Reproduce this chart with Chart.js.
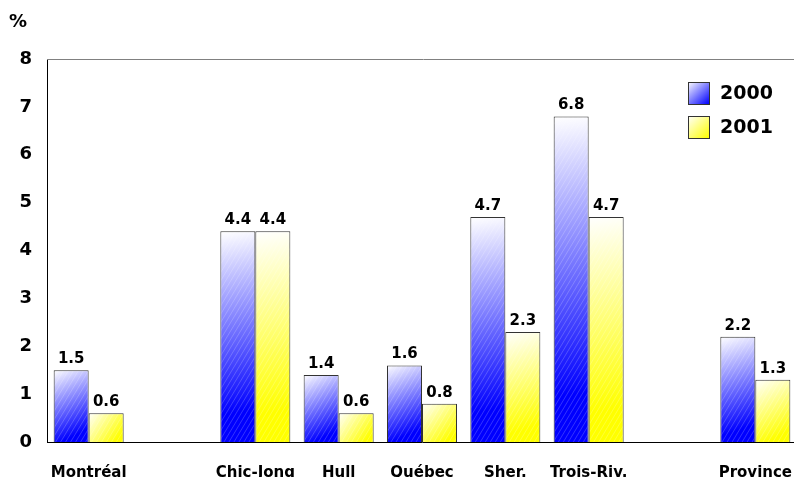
<!DOCTYPE html>
<html>
<head>
<meta charset="utf-8">
<script src="https://cdn.jsdelivr.net/npm/chart.js@4/dist/chart.umd.min.js"></script>
<style>
  html, body { margin: 0; padding: 0; background: #fff; overflow: hidden; }
  canvas { display: block; }
</style>
</head>
<body>
<canvas id="chart" width="800" height="477"></canvas>
<script>
// Taux par région, 2000 et 2001 (les catégories vides servent d'espacement)
const categories = ['Montréal', '', 'Chic-Jonq', 'Hull', 'Québec', 'Sher.', 'Trois-Riv.', '', 'Province'];
const values2000 = [1.5, null, 4.4, 1.4, 1.6, 4.7, 6.8, null, 2.2];
const values2001 = [0.6, null, 4.4, 0.6, 0.8, 2.3, 4.7, null, 1.3];
const yTicks = [0, 1, 2, 3, 4, 5, 6, 7, 8];

const FONT = '"DejaVu Sans", Verdana, sans-serif';
const CAT_PCT = 0.84;

// Dégradé diagonal blanc -> couleur, calculé à partir des échelles
function barGradient(baseColor) {
  return function (ctx) {
    const chart = ctx.chart;
    const xs = chart.scales.x, ys = chart.scales.y;
    const v = ctx.raw;
    if (!xs || !ys || v == null || ctx.type !== 'data') return baseColor;
    const cw = xs.width / categories.length;
    const bw = cw * CAT_PCT / 2;
    const cx = xs.getPixelForValue(ctx.dataIndex);
    const left = ctx.datasetIndex === 0 ? cx - bw : cx;
    const top = ys.getPixelForValue(v);
    const bottom = ys.getPixelForValue(0);
    if (![left, top, bottom, bw].every(Number.isFinite) || bw <= 0) return baseColor;
    const g = chart.ctx.createLinearGradient(left, top, left + bw, bottom);
    g.addColorStop(0, '#ffffff');
    g.addColorStop(0.85, baseColor);
    g.addColorStop(1, baseColor);
    return g;
  };
}

// Hachures fines, étiquettes de valeur, légende, ligne du haut et "%"
const decorPlugin = {
  id: 'decor',
  afterDatasetsDraw(chart) {
    const ctx = chart.ctx;
    chart.data.datasets.forEach((ds, di) => {
      chart.getDatasetMeta(di).data.forEach((bar, i) => {
        if (ds.data[i] == null) return;
        const left = bar.x - bar.width / 2;
        const h = bar.base - bar.y;
        const dx = h * 0.6;
        ctx.save();
        ctx.beginPath();
        ctx.rect(left + 1, bar.y + 1, bar.width - 2, h - 1);
        ctx.clip();
        ctx.strokeStyle = 'rgba(255,255,255,0.2)';
        ctx.lineWidth = 1;
        for (let k = -dx; k < bar.width; k += 5) {
          ctx.beginPath();
          ctx.moveTo(left + k, bar.base);
          ctx.lineTo(left + k + dx, bar.y);
          ctx.stroke();
        }
        ctx.restore();

        ctx.save();
        ctx.fillStyle = '#000';
        ctx.font = 'bold 15px ' + FONT;
        ctx.textAlign = 'center';
        ctx.textBaseline = 'alphabetic';
        ctx.fillText(ds.data[i].toFixed(1), bar.x, bar.y - 7);
        ctx.restore();
      });
    });
  },
  afterDraw(chart) {
    const ctx = chart.ctx;
    const area = chart.chartArea;
    ctx.save();
    ctx.strokeStyle = '#808080';
    ctx.lineWidth = 1;
    ctx.beginPath();
    ctx.moveTo(area.left, area.top + 0.5);
    ctx.lineTo(chart.width, area.top + 0.5);
    ctx.stroke();

    ctx.fillStyle = '#000';
    ctx.font = 'bold 18px ' + FONT;
    ctx.textBaseline = 'middle';
    ctx.fillText('%', 9, 22);

    const colors = ['#0000ff', '#ffff00'];
    chart.data.datasets.forEach((ds, di) => {
      const bx = 688, by = 82 + di * 34;
      const g = ctx.createLinearGradient(bx, by, bx + 21, by + 22);
      g.addColorStop(0, '#ffffff');
      g.addColorStop(1, colors[di]);
      ctx.fillStyle = g;
      ctx.fillRect(bx, by, 21, 22);
      ctx.strokeStyle = '#333';
      ctx.strokeRect(bx + 0.5, by + 0.5, 21, 22);
      ctx.fillStyle = '#000';
      ctx.font = 'bold 19px ' + FONT;
      ctx.textBaseline = 'middle';
      ctx.fillText(ds.label, 720, by + 12);
    });
    ctx.restore();
  }
};

new Chart(document.getElementById('chart'), {
  type: 'bar',
  data: {
    labels: categories,
    datasets: [
      {
        label: '2000',
        data: values2000,
        backgroundColor: barGradient('#0000ff'),
        borderColor: '#333',
        borderWidth: 1,
        categoryPercentage: CAT_PCT,
        barPercentage: 1
      },
      {
        label: '2001',
        data: values2001,
        backgroundColor: barGradient('#ffff00'),
        borderColor: '#333',
        borderWidth: 1,
        categoryPercentage: CAT_PCT,
        barPercentage: 1
      }
    ]
  },
  options: {
    responsive: false,
    animation: false,
    layout: { autoPadding: false, padding: { top: 59, right: 3, left: 0, bottom: 0 } },
    plugins: {
      legend: { display: false },
      tooltip: { enabled: false }
    },
    scales: {
      x: {
        grid: { display: false, drawTicks: false },
        border: { display: true, color: '#000', width: 1 },
        ticks: {
          color: '#000',
          font: { family: FONT, size: 15, weight: 'bold' },
          padding: 22,
          maxRotation: 0,
          autoSkip: false
        },
        afterFit(scale) {
          scale.height = 35;
          scale.paddingLeft = 0;
          scale.paddingRight = 0;
        }
      },
      y: {
        min: 0,
        max: 8,
        grid: { display: false, drawTicks: false },
        border: { display: true, color: '#000', width: 1 },
        afterBuildTicks(scale) { scale.ticks = yTicks.map(v => ({ value: v })); },
        ticks: {
          color: '#000',
          font: { family: FONT, size: 18, weight: 'bold' },
          padding: 15
        },
        afterFit(scale) {
          scale.width = 47;
          scale.paddingTop = 0;
          scale.paddingBottom = 0;
        }
      }
    }
  },
  plugins: [decorPlugin]
});
</script>
</body>
</html>
